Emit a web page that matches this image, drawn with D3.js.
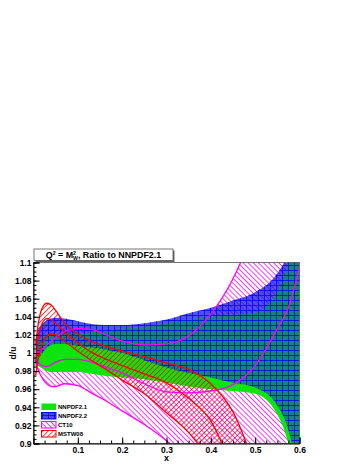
<!DOCTYPE html>
<html><head><meta charset="utf-8">
<script src="https://cdn.jsdelivr.net/npm/d3@7"></script>
<style>
html,body{margin:0;padding:0;background:#fff;}
svg{display:block;font-family:"Liberation Sans",Arial,sans-serif;}
</style></head>
<body><svg id="c" width="360" height="466"></svg>
<script>
// ---- data ----
const xs = [0.005,0.01,0.02,0.03,0.04,0.05,0.07,0.1,0.13,0.16,0.2,0.25,0.3,0.35,0.4,0.45,0.5,0.55,0.575,0.6];
const nn21Lo = [0.988,0.986,0.983,0.98,0.979,0.979,0.979,0.979,0.977,0.975,0.973,0.971,0.967,0.963,0.96,0.958,0.955,0.932,0.9,0.84];
const nn21Hi = [1.012,1.014,1.017,1.02,1.021,1.021,1.021,1.021,1.023,1.025,1.027,1.029,1.033,1.037,1.04,1.042,1.045,1.068,1.1,1.16];
const nn22Lo = [0.985,0.992,1.0,1.006,1.009,1.01,1.01,1.008,1.006,1.004,1.0,0.992,0.984,0.978,0.973,0.967,0.962,0.942,0.915,0.86];
const nn22Hi = [1.018,1.025,1.032,1.036,1.038,1.039,1.038,1.035,1.032,1.031,1.031,1.033,1.037,1.044,1.05,1.058,1.067,1.088,1.11,1.15];
const ct10Lo = [0.99,0.982,0.972,0.966,0.963,0.963,0.966,0.964,0.956,0.948,0.936,0.921,0.903,0.88,0.85,0.82,0.78,0.74,0.72,0.7];
const ct10C  = [0.995,0.99,0.986,0.985,0.987,0.99,0.993,0.993,0.99,0.985,0.978,0.966,0.957,0.956,0.958,0.965,0.986,1.027,1.05,1.095];
const ct10Hi = [0.998,1.0,1.004,1.009,1.013,1.017,1.024,1.027,1.026,1.021,1.013,1.009,1.01,1.019,1.043,1.082,1.14,1.21,1.25,1.3];
const mstwLo = [0.975,0.992,1.01,1.018,1.021,1.02,1.013,1.002,0.992,0.983,0.97,0.955,0.934,0.912,0.88,0.84,0.79,0.73,0.7,0.67];
const mstwC  = [0.99,1.012,1.033,1.038,1.037,1.033,1.023,1.011,1.001,0.994,0.986,0.977,0.967,0.95,0.925,0.872,0.82,0.76,0.73,0.7];
const mstwHi = [1.008,1.03,1.05,1.055,1.053,1.047,1.033,1.021,1.013,1.008,1.002,0.996,0.989,0.982,0.966,0.935,0.875,0.81,0.78,0.75];
const yTicks = [0.9,0.92,0.94,0.96,0.98,1.0,1.02,1.04,1.06,1.08,1.1];
const yTickLabels = ["0.9","0.92","0.94","0.96","0.98","1","1.02","1.04","1.06","1.08","1.1"];
const xTicks = [0.1,0.2,0.3,0.4,0.5,0.6];
const xTickLabels = ["0.1","0.2","0.3","0.4","0.5","0.6"];
const legendNames = ["NNPDF2.1","NNPDF2.2","CT10","MSTW08"];

// ---- layout ----
const L=33.5, R=299.5, T=262.5, B=443.5;
const x = d3.scaleLinear().domain([0,0.6]).range([L,R]);
const y = d3.scaleLinear().domain([0.9,1.1]).range([B,T]);
const svg = d3.select("#c");
const defs = svg.append("defs");

const pts = (lo,hi) => xs.map((v,i)=>({x:v,lo:lo[i],hi:hi[i]}));
const area = d3.area().x(d=>x(d.x)).y0(d=>y(d.lo)).y1(d=>y(d.hi)).curve(d3.curveMonotoneX);
const line = d3.line().x(d=>x(d[0])).y(d=>y(d[1])).curve(d3.curveMonotoneX);
const ser = a => xs.map((v,i)=>[v,a[i]]);

// patterns
const pg = defs.append("pattern").attr("id","pGrid").attr("patternUnits","userSpaceOnUse").attr("width",6).attr("height",5);
pg.append("rect").attr("x",0).attr("y",0).attr("width",1).attr("height",5).attr("fill","#0000ff").attr("fill-opacity",0.75);
pg.append("rect").attr("x",0).attr("y",0).attr("width",6).attr("height",1).attr("fill","#0000ff").attr("fill-opacity",0.75);

function hatch(id, color, angle, op){
  const p = defs.append("pattern").attr("id",id).attr("patternUnits","userSpaceOnUse")
    .attr("width",3.6).attr("height",4).attr("patternTransform","rotate("+angle+")");
  p.append("rect").attr("x",0).attr("y",0).attr("width",0.9).attr("height",4).attr("fill",color).attr("fill-opacity",op);
}
hatch("pCT","#ff00ff",-45,0.85);
hatch("pMS","#ff0000",45,0.8);

// mask: blue is weaker where the green band lies beneath, so green shows through (teal)
const mk = defs.append("mask").attr("id","mBlue").attr("maskUnits","userSpaceOnUse")
  .attr("x",0).attr("y",0).attr("width",360).attr("height",466);
mk.append("rect").attr("width",360).attr("height",466).attr("fill","#c4c4c4");
mk.append("path").attr("d",area(pts(nn21Lo,nn21Hi))).attr("fill","#7a7a7a");

defs.append("clipPath").attr("id","clip").append("rect").attr("x",L).attr("y",T).attr("width",R-L).attr("height",B-T);

const g = svg.append("g").attr("clip-path","url(#clip)");
// CT10 hatch
g.append("path").attr("d",area(pts(ct10Lo,ct10Hi))).attr("fill","url(#pCT)");
// NNPDF2.1 solid green
g.append("path").attr("d",area(pts(nn21Lo,nn21Hi))).attr("fill","#0ae60a");
// MSTW hatch
g.append("path").attr("d",area(pts(mstwLo,mstwHi))).attr("fill","url(#pMS)");
// NNPDF2.2 blue
const blueD = area(pts(nn22Lo,nn22Hi));
g.append("path").attr("d",blueD).attr("fill","#1c1ce6").attr("mask","url(#mBlue)");
g.append("path").attr("d",blueD).attr("fill","url(#pGrid)");
// lines
[ct10Lo,ct10C,ct10Hi].forEach(a=>g.append("path").attr("d",line(ser(a))).attr("fill","none").attr("stroke","#ff00ff").attr("stroke-width",1.3));
[mstwLo,mstwC,mstwHi].forEach(a=>g.append("path").attr("d",line(ser(a))).attr("fill","none").attr("stroke","#ff0000").attr("stroke-width",1.3));

// frame
svg.append("rect").attr("x",L).attr("y",T).attr("width",R-L).attr("height",B-T).attr("fill","none").attr("stroke","#555").attr("stroke-width",0.8);

// axes
const fontBold = sel => sel.attr("font-family","'Liberation Sans',Arial,sans-serif").attr("font-weight","bold");
const yMinor = d3.range(0,41).map(i=>0.9+i*0.005);
const xMinor = d3.range(1,24).map(i=>i*0.025);
svg.append("g").attr("transform",`translate(${L},0)`).call(d3.axisLeft(y).tickValues(yMinor).tickSize(-3).tickFormat(""))
  .call(s=>{s.select(".domain").remove(); s.selectAll("line").attr("stroke","#000");});
svg.append("g").attr("transform",`translate(0,${B})`).call(d3.axisBottom(x).tickValues(xMinor).tickSize(-3).tickFormat(""))
  .call(s=>{s.select(".domain").remove(); s.selectAll("line").attr("stroke","#000");});
const ya = svg.append("g").attr("transform",`translate(${L},0)`)
  .call(d3.axisLeft(y).tickValues(yTicks).tickSize(-6).tickPadding(2).tickFormat((d,i)=>yTickLabels[i]));
ya.select(".domain").attr("stroke","#000");
ya.selectAll("line").attr("stroke","#000");
ya.selectAll("text").attr("font-size",8.5).attr("fill","#000").call(fontBold);
const xa = svg.append("g").attr("transform",`translate(0,${B})`)
  .call(d3.axisBottom(x).tickValues(xTicks).tickSize(-6).tickPadding(3).tickFormat((d,i)=>xTickLabels[i]));
xa.select(".domain").attr("stroke","#000");
xa.selectAll("line").attr("stroke","#000");
xa.selectAll("text").attr("font-size",8.5).attr("fill","#000").call(fontBold);

// axis titles
svg.append("text").attr("x",(L+R)/2).attr("y",461).attr("text-anchor","middle").attr("font-size",9).call(fontBold).text("x");
svg.append("text").attr("transform",`translate(16,${(T+B)/2}) rotate(-90)`).attr("text-anchor","middle").attr("font-size",8.5).call(fontBold).text("d/u");

// title box
svg.append("rect").attr("x",35.5).attr("y",250.5).attr("width",139).attr("height",11.5).attr("fill","#666");
svg.append("rect").attr("x",34).attr("y",249).attr("width",139).attr("height",11.5).attr("fill","#fff").attr("stroke","#555").attr("stroke-width",0.8);
const tt = svg.append("text").attr("x",103.5).attr("y",258.2).attr("text-anchor","middle").attr("font-size",8.9).call(fontBold);
tt.append("tspan").text("Q");
tt.append("tspan").attr("font-size",5.2).attr("dy",-3.2).text("2");
tt.append("tspan").attr("dy",3.2).text(" = M");
tt.append("tspan").attr("font-size",5.2).attr("dy",-3.2).text("2");
tt.append("tspan").attr("font-size",5.2).attr("dx",-3).attr("dy",5.2).text("W");
tt.append("tspan").attr("dy",-2).text(", Ratio to NNPDF2.1");

// legend
const legFill = ["#0ae60a","#4a4aee","url(#pCT)","url(#pMS)"];
const legStroke = ["none","#0000ff","#ff00ff","#ff0000"];
legendNames.forEach((n,i)=>{
  const yy = 403.5 + i*9;
  svg.append("rect").attr("x",41.5).attr("y",yy).attr("width",14.5).attr("height",6.5)
    .attr("fill",legFill[i]).attr("stroke",legStroke[i]).attr("stroke-width",1);
  if(i===1) svg.append("rect").attr("x",41.5).attr("y",yy).attr("width",14.5).attr("height",6.5).attr("fill","url(#pGrid)");
  svg.append("text").attr("x",58).attr("y",yy+5.8).attr("font-size",6).call(fontBold).text(n);
});
</script></body></html>
